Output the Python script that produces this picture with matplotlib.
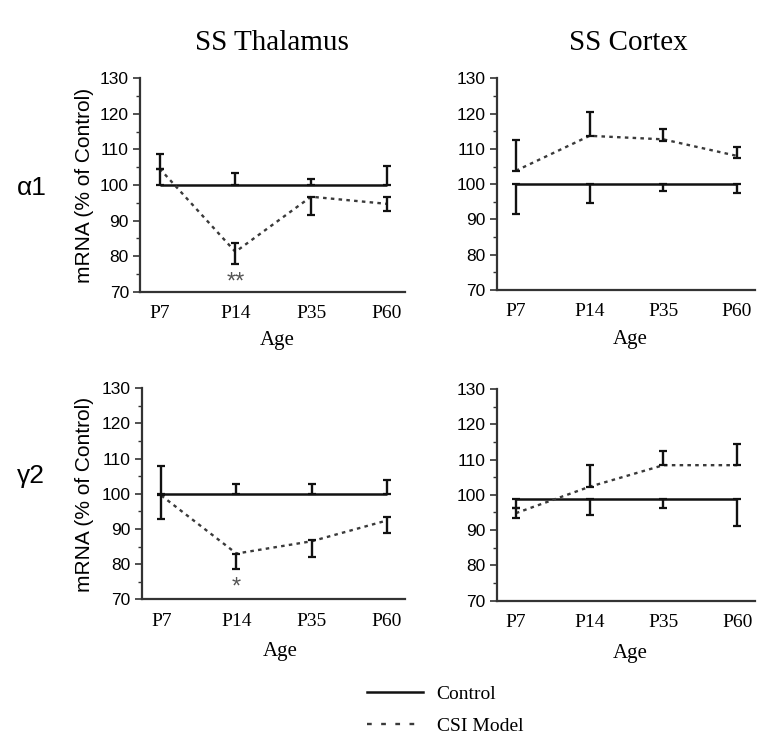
import matplotlib
matplotlib.use("Agg")
import matplotlib.pyplot as plt
from matplotlib.lines import Line2D
from matplotlib.ticker import MultipleLocator

ages = ["P7", "P14", "P35", "P60"]

# alpha1, SS thalamus
th_a1_ctrl = [100, 100, 100, 100]
th_a1_ctrl_lo = [0, 0, 0, 0]
th_a1_ctrl_hi = [8.7, 3.5, 1.7, 5.4]
th_a1_csi = [104.6, 81.2, 96.7, 94.7]
th_a1_csi_lo = [0, 3.4, 5.1, 2.1]
th_a1_csi_hi = [0, 2.5, 0, 1.9]

# alpha1, SS cortex
cx_a1_ctrl = [100, 100, 100, 100]
cx_a1_ctrl_lo = [8.4, 5.4, 1.8, 2.6]
cx_a1_ctrl_hi = [0, 0, 0, 0]
cx_a1_csi = [103.8, 113.7, 112.7, 108.0]
cx_a1_csi_lo = [0, 0, 0.4, 0.5]
cx_a1_csi_hi = [8.7, 6.8, 2.8, 2.6]

# gamma2, SS thalamus
th_g2_ctrl = [100, 100, 100, 100]
th_g2_ctrl_lo = [0, 0, 0, 0]
th_g2_ctrl_hi = [8.0, 2.7, 2.7, 3.8]
th_g2_csi = [99.5, 83.0, 86.5, 92.4]
th_g2_csi_lo = [6.6, 4.5, 4.5, 3.6]
th_g2_csi_hi = [0, 0, 0.3, 1.0]

# gamma2, SS cortex
cx_g2_ctrl = [98.7, 98.7, 98.7, 98.7]
cx_g2_ctrl_lo = [2.5, 4.4, 2.3, 7.4]
cx_g2_ctrl_hi = [0, 0, 0, 0]
cx_g2_csi = [94.8, 102.3, 108.4, 108.4]
cx_g2_csi_lo = [1.3, 0, 0, 0]
cx_g2_csi_hi = [1.4, 6.1, 4.0, 6.0]

SERIF = "Liberation Serif"
SANS = "Liberation Sans"
plt.rcParams["font.family"] = SANS

W, H = 779, 750
fig = plt.figure(figsize=(W / 100, H / 100), dpi=100)


def px(x, y):
    return x / W, 1 - y / H


def panel(rect, ctrl, c_lo, c_hi, csi, s_lo, s_hi):
    ax = fig.add_axes(rect)
    x = list(range(len(ages)))
    ax.plot(x, ctrl, color="#111111", lw=1.8, solid_capstyle="butt")
    ax.plot(x, csi, color="#3a3a3a", lw=1.7, linestyle=(0, (1.5, 1.8)))
    ax.errorbar(x, ctrl, yerr=[c_lo, c_hi], fmt="none", ecolor="#111111",
                elinewidth=1.7, capsize=3, capthick=1.6)
    ax.errorbar(x, csi, yerr=[s_lo, s_hi], fmt="none", ecolor="#111111",
                elinewidth=1.7, capsize=3, capthick=1.6)
    ax.set_xlim(-0.26, 3.24)
    ax.set_ylim(70, 130)
    ax.yaxis.set_major_locator(MultipleLocator(10))
    ax.yaxis.set_minor_locator(MultipleLocator(5))
    ax.set_xticks(x)
    ax.set_xticklabels(ages, fontfamily=SERIF, fontsize=14)
    ax.tick_params(axis="x", length=0, pad=9.5)
    ax.tick_params(axis="y", which="major", length=5, width=1.2, labelsize=12.5,
                   pad=3, color="#333333")
    ax.tick_params(axis="y", which="minor", length=3, width=1.0, color="#333333")
    for s in ["top", "right"]:
        ax.spines[s].set_visible(False)
    for s in ["left", "bottom"]:
        ax.spines[s].set_linewidth(1.6)
        ax.spines[s].set_color("#333333")
    return ax


ax_tl = panel([0.1797, 0.6111, 0.3402, 0.2845], th_a1_ctrl, th_a1_ctrl_lo, th_a1_ctrl_hi,
              th_a1_csi, th_a1_csi_lo, th_a1_csi_hi)
ax_tr = panel([0.6376, 0.6133, 0.3312, 0.2823], cx_a1_ctrl, cx_a1_ctrl_lo, cx_a1_ctrl_hi,
              cx_a1_csi, cx_a1_csi_lo, cx_a1_csi_hi)
ax_bl = panel([0.1819, 0.2009, 0.3380, 0.2816], th_g2_ctrl, th_g2_ctrl_lo, th_g2_ctrl_hi,
              th_g2_csi, th_g2_csi_lo, th_g2_csi_hi)
ax_br = panel([0.6376, 0.1991, 0.3316, 0.2823], cx_g2_ctrl, cx_g2_ctrl_lo, cx_g2_ctrl_hi,
              cx_g2_csi, cx_g2_csi_lo, cx_g2_csi_hi)

# significance marks
ax_tl.text(1, 72.6, "**", ha="center", va="center", fontfamily=SANS, fontsize=17, color="#555555")
ax_bl.text(1, 73.4, "*", ha="center", va="center", fontfamily=SANS, fontsize=17, color="#555555")

# column titles
fig.text(*px(271.5, 49.5), "SS Thalamus", ha="center", va="baseline", fontfamily=SERIF, fontsize=21)
fig.text(*px(628, 49.5), "SS Cortex", ha="center", va="baseline", fontfamily=SERIF, fontsize=21)

# row labels
fig.text(*px(17, 195), "\u03b11", ha="left", va="baseline", fontsize=19)
fig.text(*px(17, 483), "\u03b32", ha="left", va="baseline", fontsize=19)

# y labels
fig.text(*px(84, 185), "mRNA (% of Control)", rotation=90, ha="center", va="center", fontsize=15)
fig.text(*px(84, 494), "mRNA (% of Control)", rotation=90, ha="center", va="center", fontsize=15)

# x labels
for xc, yb in [(277, 345), (630, 344), (280, 656), (630, 658)]:
    fig.text(*px(xc, yb), "Age", ha="center", va="baseline", fontfamily=SERIF, fontsize=15)

# legend
handles = [Line2D([], [], color="#111111", lw=1.8),
           Line2D([], [], color="#3a3a3a", lw=1.7, linestyle=(0, (2, 4)))]
fig.legend(handles, ["Control", "CSI Model"], loc="center left",
           bbox_to_anchor=px(357, 710), frameon=False, borderpad=0,
           handlelength=2.9, handletextpad=0.7, labelspacing=0.75,
           prop={"family": SERIF, "size": 14})

fig.savefig("out.png", dpi=100)
